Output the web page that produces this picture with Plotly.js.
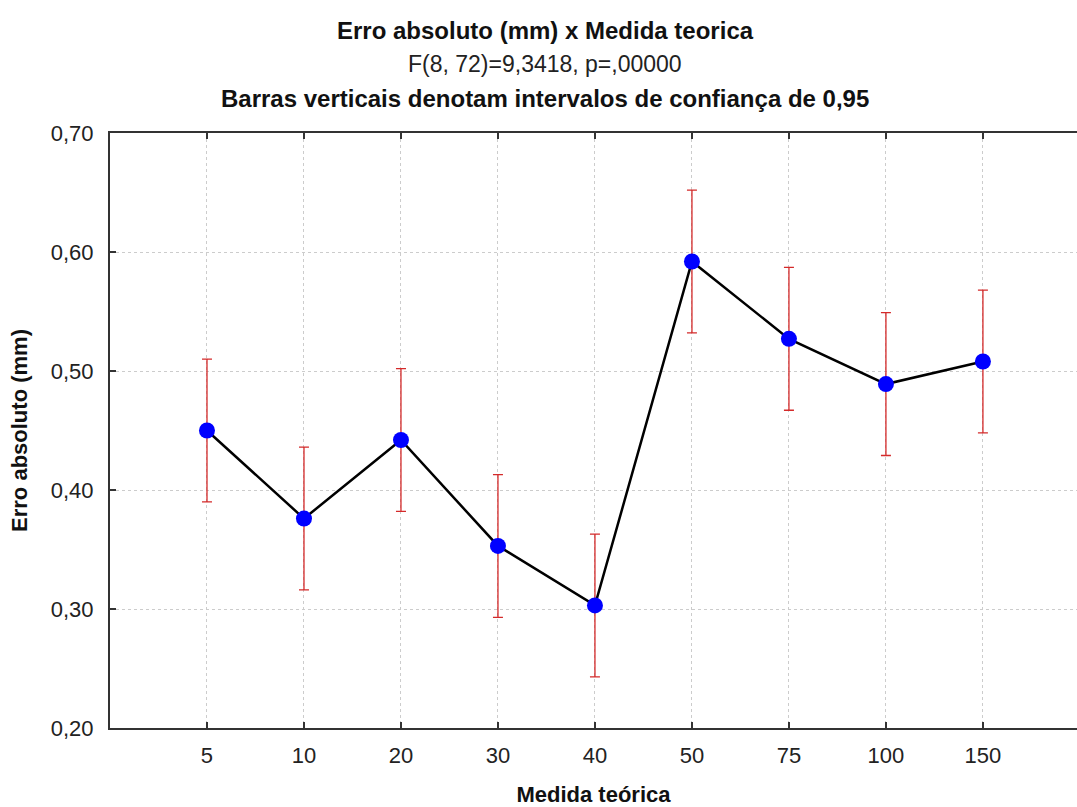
<!DOCTYPE html>
<html>
<head>
<meta charset="utf-8">
<script src="https://cdn.plot.ly/plotly-3.0.1.min.js"></script>
<style>html,body{margin:0;padding:0;background:#fff;overflow:hidden}</style>
</head>
<body>
<div id="chart" style="width:1077px;height:807px"></div>
<script>
const categories = ["5", "10", "20", "30", "40", "50", "75", "100", "150"];
const means = [0.450, 0.376, 0.442, 0.353, 0.303, 0.592, 0.527, 0.489, 0.508];
const ciHalf = [0.060, 0.060, 0.060, 0.060, 0.060, 0.060, 0.060, 0.060, 0.060];
const yTickVals = [0.2, 0.3, 0.4, 0.5, 0.6, 0.7];
const yTickText = ["0,20", "0,30", "0,40", "0,50", "0,60", "0,70"];

const trace = {
  type: "scatter",
  mode: "lines+markers",
  x: categories,
  y: means,
  line: {color: "#000000", width: 2.5},
  marker: {color: "#0000ff", size: 16},
  error_y: {type: "data", array: ciHalf, visible: true, color: "#d42a2a", thickness: 1.3, width: 5},
  hoverinfo: "none"
};

const font = "Arial, 'Liberation Sans', sans-serif";
const layout = {
  width: 1077, height: 807,
  paper_bgcolor: "#ffffff", plot_bgcolor: "#ffffff",
  margin: {l: 110, r: 0, t: 133, b: 79},
  showlegend: false,
  font: {family: font, color: "#222"},
  xaxis: {
    type: "category",
    range: [-1, 8.97],
    showline: true, linecolor: "#333", linewidth: 2,
    mirror: "ticks",
    ticks: "inside", ticklen: 6, tickcolor: "#333", tickwidth: 1.5,
    showgrid: true, gridcolor: "#cccccc", griddash: "dot", gridwidth: 1,
    tickfont: {size: 22, family: font, color: "#222"},
    ticklabelstandoff: 7,
    title: {text: "<b>Medida teórica</b>", font: {size: 22, family: font, color: "#111"}, standoff: 21},
    zeroline: false, fixedrange: true
  },
  yaxis: {
    range: [0.2, 0.7],
    tickvals: yTickVals, ticktext: yTickText,
    showline: true, linecolor: "#333", linewidth: 2,
    ticks: "inside", ticklen: 6, tickcolor: "#333", tickwidth: 1.5,
    showgrid: true, gridcolor: "#cccccc", griddash: "dot", gridwidth: 1,
    tickfont: {size: 22, family: font, color: "#222"},
    ticklabelstandoff: 10,
    title: {text: "<b>Erro absoluto (mm)</b>", font: {size: 22, family: font, color: "#111"}, standoff: 17},
    zeroline: false, fixedrange: true
  },
  annotations: [
    {text: "<b>Erro absoluto (mm) x Medida teorica</b>", xref: "paper", yref: "paper", x: 0.45, y: 1, yshift: 103, xanchor: "center", yanchor: "middle", showarrow: false, font: {size: 24, family: font, color: "#111"}},
    {text: "F(8, 72)=9,3418, p=,00000", xref: "paper", yref: "paper", x: 0.45, y: 1, yshift: 69, xanchor: "center", yanchor: "middle", showarrow: false, font: {size: 23, family: font, color: "#222"}},
    {text: "<b>Barras verticais denotam intervalos de confiança de 0,95</b>", xref: "paper", yref: "paper", x: 0.45, y: 1, yshift: 35, xanchor: "center", yanchor: "middle", showarrow: false, font: {size: 24, family: font, color: "#111"}}
  ]
};

Plotly.newPlot("chart", [trace], layout, {staticPlot: true, displayModeBar: false});
</script>
</body>
</html>
